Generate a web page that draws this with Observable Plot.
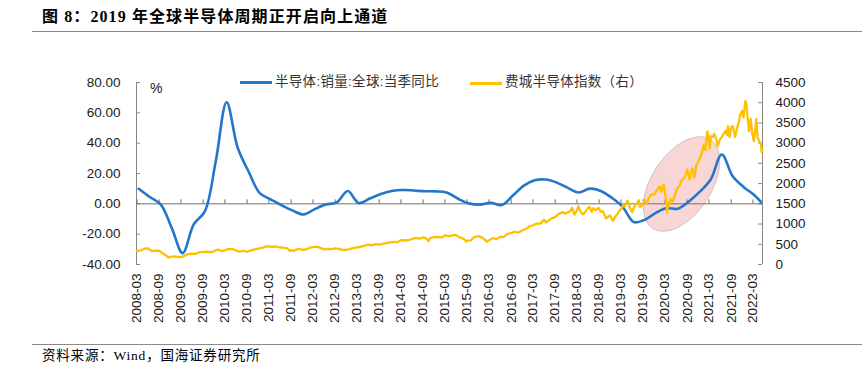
<!DOCTYPE html>
<html><head><meta charset="utf-8">
<script src="https://cdn.jsdelivr.net/npm/d3@7"></script>
<script src="https://cdn.jsdelivr.net/npm/@observablehq/plot@0.6"></script>
<style>
body{margin:0;background:#fff;}
#wrap{position:relative;width:864px;height:379px;overflow:hidden;background:#fff;font-family:"Liberation Sans",Arial,sans-serif;}
#title{position:absolute;left:42px;top:7px;font-family:"Liberation Serif","Noto Sans CJK SC",serif;font-weight:bold;font-size:16px;line-height:20px;letter-spacing:1.1px;color:#000;white-space:pre;}
.hr{position:absolute;left:32px;width:830px;height:0;border-top:1.5px solid #8a8a8a;}
#chart{position:absolute;left:0;top:40px;}
#source{position:absolute;left:42px;top:347px;font-family:"Liberation Serif","Noto Sans CJK SC",serif;font-size:13.5px;line-height:17px;letter-spacing:0.8px;color:#000;white-space:nowrap;}
.lg{position:absolute;font-family:"Liberation Sans","Noto Sans CJK SC",sans-serif;font-size:13.5px;line-height:16px;letter-spacing:0.3px;color:#333;white-space:nowrap;}
.sw{position:absolute;height:3px;}
#pct{position:absolute;left:150px;top:80px;font-size:14px;line-height:16px;color:#222;}
</style></head><body>
<div id="wrap">
  <div id="title">图 8：2019 年全球半导体周期正开启向上通道</div>
  <div class="hr" style="top:31px"></div>
  <div id="chart"></div>
  <div class="hr" style="top:344px"></div>
  <div id="source">资料来源：Wind，国海证券研究所</div>
</div>
<script>
// ---- data ----
const seriesNames = ["半导体:销量:全球:当季同比", "费城半导体指数（右）"];
const blueDates = [
 "2008-03-15","2008-06-15","2008-09-15","2008-12-15","2009-03-15","2009-06-15","2009-09-15","2009-12-15",
 "2010-03-15","2010-06-15","2010-09-15","2010-12-15","2011-03-15","2011-06-15","2011-09-15","2011-12-15",
 "2012-03-15","2012-06-15","2012-09-15","2012-12-15","2013-03-15","2013-06-15","2013-09-15","2013-12-15",
 "2014-03-15","2014-06-15","2014-09-15","2014-12-15","2015-03-15","2015-06-15","2015-09-15","2015-12-15",
 "2016-03-15","2016-06-15","2016-09-15","2016-12-15","2017-03-15","2017-06-15","2017-09-15","2017-12-15",
 "2018-03-15","2018-06-15","2018-09-15","2018-12-15","2019-03-15","2019-06-15","2019-09-15","2019-12-15",
 "2020-03-15","2020-06-15","2020-09-15","2020-12-15","2021-03-15","2021-06-15","2021-09-15","2021-12-15",
 "2022-03-15","2022-06-15"];
const blueValues = [
 9.9,4.5,-0.5,-16,-32.5,-13.5,-5,28,
 67,37,21,7,3,-1,-4.5,-7,
 -3.5,-0.5,1,8.5,0.5,3.5,6.5,8.4,
 9.1,8.8,8.3,8.2,7.5,3.5,0.3,-0.5,
 0.6,-0.8,5.5,12,15.5,16,14,10.5,
 7.5,10,8.5,4,-2,-12,-10.5,-6,
 -2.8,-3.3,1.5,8,16,32.5,18,11,
 5.5,-2.25];
const soxDates = [
 "2008-03-03","2008-04-01","2008-05-01","2008-06-01","2008-07-01","2008-08-01","2008-09-01","2008-10-01","2008-11-01","2008-11-20","2008-12-01",
 "2009-01-01","2009-02-01","2009-03-01","2009-04-01","2009-05-01","2009-06-01","2009-07-01","2009-08-01","2009-09-01","2009-10-01","2009-11-01","2009-12-01",
 "2010-01-01","2010-02-01","2010-03-01","2010-04-01","2010-05-01","2010-06-01","2010-07-01","2010-08-01","2010-09-01","2010-10-01","2010-11-01","2010-12-01",
 "2011-01-01","2011-02-01","2011-03-01","2011-04-01","2011-05-01","2011-06-01","2011-07-01","2011-08-01","2011-08-20","2011-09-01","2011-10-01","2011-11-01","2011-12-01",
 "2012-01-01","2012-02-01","2012-03-01","2012-04-01","2012-05-01","2012-06-01","2012-07-01","2012-08-01","2012-09-01","2012-10-01","2012-11-01","2012-12-01",
 "2013-01-01","2013-02-01","2013-03-01","2013-04-01","2013-05-01","2013-06-01","2013-07-01","2013-08-01","2013-09-01","2013-10-01","2013-11-01","2013-12-01",
 "2014-01-01","2014-02-01","2014-03-01","2014-04-01","2014-05-01","2014-06-01","2014-07-01","2014-08-01","2014-09-01","2014-10-01","2014-10-15","2014-11-01","2014-12-01",
 "2015-01-01","2015-02-01","2015-03-01","2015-04-01","2015-05-01","2015-06-01","2015-07-01","2015-08-01","2015-08-25","2015-09-01","2015-10-01","2015-11-01","2015-12-01",
 "2016-01-01","2016-02-01","2016-02-11","2016-03-01","2016-04-01","2016-05-01","2016-06-01","2016-07-01","2016-08-01","2016-09-01","2016-10-01","2016-11-01","2016-12-01",
 "2017-01-01","2017-02-01","2017-03-01","2017-04-01","2017-05-01","2017-06-01","2017-06-15","2017-07-01","2017-08-01","2017-09-01","2017-10-01","2017-11-01","2017-11-15","2017-12-01",
 "2018-01-01","2018-01-20","2018-02-08","2018-03-01","2018-03-12","2018-04-01","2018-04-20","2018-05-01","2018-06-01","2018-06-15","2018-07-01","2018-07-15","2018-08-01","2018-08-29","2018-09-01","2018-09-15","2018-10-01","2018-10-29","2018-11-15","2018-12-01","2018-12-24",
 "2019-01-01","2019-01-15","2019-02-01","2019-02-15","2019-03-01","2019-03-15","2019-04-01","2019-04-24","2019-05-01","2019-05-15","2019-06-03","2019-06-15","2019-07-01","2019-07-15","2019-07-26","2019-08-05","2019-08-15","2019-09-01","2019-09-12","2019-10-02","2019-10-15","2019-11-01","2019-11-15","2019-12-02","2019-12-15",
 "2020-01-01","2020-01-15","2020-01-31","2020-02-19","2020-03-02","2020-03-09","2020-03-18","2020-03-26","2020-04-01","2020-04-15","2020-05-01","2020-05-15","2020-06-01","2020-06-15","2020-07-01","2020-07-15","2020-08-03","2020-08-15","2020-09-02","2020-09-21","2020-10-01","2020-10-15","2020-10-30","2020-11-16","2020-12-01","2020-12-15",
 "2021-01-04","2021-01-15","2021-01-29","2021-02-16","2021-03-08","2021-03-15","2021-04-01","2021-04-15","2021-05-03","2021-05-12","2021-06-01","2021-06-15","2021-07-01","2021-07-16","2021-07-28","2021-08-05","2021-08-19","2021-09-01","2021-09-15","2021-10-04","2021-10-15","2021-11-01","2021-11-15","2021-11-30","2021-12-13","2021-12-27",
 "2022-01-04","2022-01-14","2022-01-27","2022-02-10","2022-02-23","2022-03-08","2022-03-15","2022-03-29","2022-04-08","2022-04-22","2022-05-05","2022-05-12","2022-05-18"];
const soxValues = [
 335,350,390,400,330,345,340,270,215,172,190,
 200,190,180,220,255,270,265,305,310,320,300,330,
 370,330,350,385,380,345,320,340,315,350,375,390,
 410,445,445,435,445,420,415,400,335,350,345,390,365,
 370,415,430,440,410,375,385,380,400,385,360,365,
 380,410,420,440,460,490,475,505,490,510,530,545,
 560,555,600,600,600,630,660,640,670,640,580,650,680,
 680,670,720,700,720,730,670,640,570,590,595,680,700,
 670,600,560,600,650,625,690,680,760,780,810,790,840,
 880,940,970,1010,1010,1110,1040,1070,1140,1170,1250,1300,1260,1270,
 1310,1400,1230,1340,1440,1300,1240,1270,1400,1420,1300,1390,1340,1400,1380,1300,1320,1140,1180,1210,1080,
 1110,1190,1250,1330,1370,1440,1450,1580,1520,1400,1290,1400,1480,1530,1590,1420,1440,1490,1600,1510,1630,1710,1740,1730,1800,
 1870,1930,1800,1980,1750,1600,1290,1530,1430,1620,1560,1650,1820,1900,1950,2080,2120,2190,2350,2100,2250,2380,2150,2450,2530,2630,
 2800,2950,2830,3290,2870,3170,3150,3230,3060,2930,3100,3150,3240,3300,3200,3420,3150,3400,3420,3150,3320,3500,3700,3800,3640,4040,
 3990,3660,3300,3600,3230,3050,3200,3600,3150,3050,3000,2780,2850];
const xTickLabels = ["2008-03","2008-09","2009-03","2009-09","2010-03","2010-09","2011-03","2011-09","2012-03","2012-09",
 "2013-03","2013-09","2014-03","2014-09","2015-03","2015-09","2016-03","2016-09","2017-03","2017-09",
 "2018-03","2018-09","2019-03","2019-09","2020-03","2020-09","2021-03","2021-09","2022-03"];
const leftTicks = [-40, -20, 0, 20, 40, 60, 80];
const rightTicks = [0, 500, 1000, 1500, 2000, 2500, 3000, 3500, 4000, 4500];
const xDomain = ["2008-02-26", "2022-05-19"];
const leftDomain = [-40, 80];
const rightDomain = [0, 4500];
// highlight ellipse annotation (center in data units, radii in px)
const ellipseCenter = {date: "2020-07-20", right: 1978};
const ellipseShape = {rx: 53, ry: 30, angle: -57};

// ---- build ----
const blue = blueDates.map((d, i) => ({date: new Date(d), v: blueValues[i]}));
const sox = soxDates.map((d, i) => ({date: new Date(d), v: soxValues[i]}));
const X0 = new Date(xDomain[0]), X1 = new Date(xDomain[1]);
const toLeft = v => leftDomain[0] + (v - rightDomain[0]) * (leftDomain[1] - leftDomain[0]) / (rightDomain[1] - rightDomain[0]);
const fromLeft = y => rightDomain[0] + (y - leftDomain[0]) * (rightDomain[1] - rightDomain[0]) / (leftDomain[1] - leftDomain[0]);
const xTicks = xTickLabels.map(s => new Date(s + "-01"));
const AX = "#868686", ZERO = "#6e6e6e";

function ellipseMark(index, scales) {
  const cx = scales.x(new Date(ellipseCenter.date));
  const cy = scales.y(toLeft(ellipseCenter.right));
  const e = document.createElementNS("http://www.w3.org/2000/svg", "ellipse");
  e.setAttribute("cx", cx); e.setAttribute("cy", cy);
  e.setAttribute("rx", ellipseShape.rx); e.setAttribute("ry", ellipseShape.ry);
  e.setAttribute("transform", `rotate(${ellipseShape.angle} ${cx} ${cy})`);
  e.setAttribute("fill", "#f9d6d6");
  e.setAttribute("stroke", "#c8b4b4");
  e.setAttribute("stroke-width", "0.7");
  return e;
}

const plot = Plot.plot({
  width: 864, height: 300,
  marginLeft: 136, marginRight: 102, marginTop: 42, marginBottom: 76,
  style: {fontFamily: '"Liberation Sans", Arial, sans-serif', fontSize: "13.5px", color: "#1a1a1a", background: "transparent"},
  x: {type: "utc", domain: [X0, X1]},
  y: {domain: leftDomain},
  marks: [
    ellipseMark,
    Plot.ruleX([X0, X1], {stroke: AX, strokeWidth: 1}),
    Plot.ruleY(leftTicks, {x1: () => X0, x2: () => X0, insetRight: -4, stroke: AX}),
    Plot.ruleY(rightTicks.map(toLeft), {x1: () => X1, x2: () => X1, insetLeft: -4, stroke: AX}),
    Plot.ruleY([0], {stroke: ZERO, strokeWidth: 1}),
    Plot.ruleX(xTicks, {y1: () => 0, y2: () => 0, insetTop: -4, stroke: ZERO}),
    Plot.axisY({anchor: "left", ticks: leftTicks, tickSize: 0, tickPadding: 16, tickFormat: d => d.toFixed(2), label: null}),
    Plot.axisY({anchor: "right", ticks: rightTicks.map(toLeft), tickSize: 0, tickPadding: 13, tickFormat: d => String(Math.round(fromLeft(d))), label: null}),
    Plot.axisX({ticks: xTicks, tickFormat: d3.utcFormat("%Y-%m"), tickRotate: -90, tickSize: 0, tickPadding: 9, label: null}),
    Plot.line(blue, {x: "date", y: "v", stroke: "#2277cc", strokeWidth: 2.6, curve: "catmull-rom", clip: true}),
    Plot.line(sox, {x: "date", y: d => toLeft(d.v), stroke: "#FFC000", strokeWidth: 2.3, strokeLinejoin: "round"})
  ]
});
document.getElementById("chart").appendChild(plot);

// legend + unit label
const wrap = document.getElementById("wrap");
function add(html, cls, style) {
  const d = document.createElement("div"); d.className = cls; d.textContent = html || "";
  Object.assign(d.style, style); wrap.appendChild(d); return d;
}
add("", "sw", {left: "240px", top: "80.5px", width: "32px", background: "#2277cc"});
add(seriesNames[0], "lg", {left: "275px", top: "74px"});
add("", "sw", {left: "470px", top: "81.5px", width: "32px", background: "#FFC000"});
add(seriesNames[1], "lg", {left: "505px", top: "74px"});
const p = document.createElement("div"); p.id = "pct"; p.textContent = "%"; wrap.appendChild(p);
</script>
</body></html>
